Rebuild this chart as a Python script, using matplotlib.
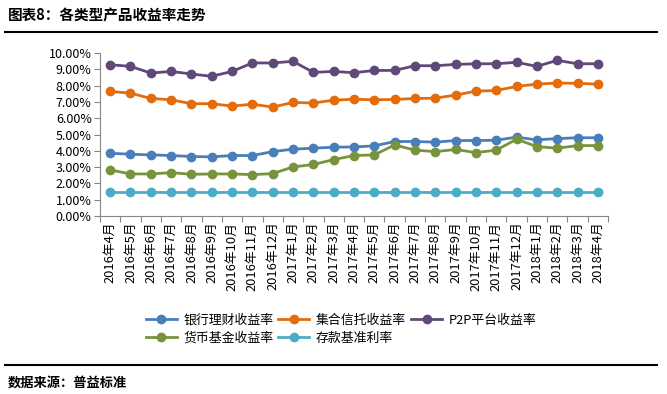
import matplotlib
matplotlib.use('Agg')
import matplotlib.pyplot as plt
from matplotlib.ticker import FuncFormatter
from matplotlib.lines import Line2D

plt.rcParams['font.family'] = ['Noto Sans CJK SC', 'DejaVu Sans']

# 月份
months = ['2016年4月', '2016年5月', '2016年6月', '2016年7月', '2016年8月', '2016年9月',
          '2016年10月', '2016年11月', '2016年12月', '2017年1月', '2017年2月', '2017年3月',
          '2017年4月', '2017年5月', '2017年6月', '2017年7月', '2017年8月', '2017年9月',
          '2017年10月', '2017年11月', '2017年12月', '2018年1月', '2018年2月', '2018年3月',
          '2018年4月']

# 收益率 (%)
bank = [3.85, 3.79, 3.75, 3.71, 3.65, 3.63, 3.71, 3.71, 3.95, 4.10, 4.16, 4.22,
        4.24, 4.30, 4.57, 4.57, 4.53, 4.63, 4.63, 4.65, 4.84, 4.67, 4.75, 4.80, 4.80]
trust = [7.64, 7.54, 7.21, 7.13, 6.89, 6.89, 6.74, 6.86, 6.68, 6.97, 6.93, 7.11,
         7.16, 7.13, 7.15, 7.21, 7.23, 7.42, 7.66, 7.70, 7.95, 8.09, 8.16, 8.14, 8.09]
p2p = [9.28, 9.18, 8.77, 8.87, 8.71, 8.57, 8.87, 9.39, 9.39, 9.49, 8.81, 8.87,
       8.79, 8.93, 8.93, 9.22, 9.22, 9.30, 9.34, 9.34, 9.43, 9.18, 9.55, 9.34, 9.34]
money = [2.83, 2.58, 2.58, 2.66, 2.56, 2.58, 2.58, 2.54, 2.60, 3.01, 3.16, 3.46,
         3.71, 3.75, 4.36, 4.04, 3.95, 4.08, 3.89, 4.04, 4.71, 4.26, 4.16, 4.32, 4.32]
deposit = [1.50] * 25

series = [
    ('银行理财收益率', bank, '#4a7ebb'),
    ('集合信托收益率', trust, '#e46c0a'),
    ('P2P平台收益率', p2p, '#60497a'),
    ('货币基金收益率', money, '#77933c'),
    ('存款基准利率', deposit, '#4bacc6'),
]

fig = plt.figure(figsize=(6.67, 3.94), dpi=100)
ax = fig.add_axes([100 / 667, 1 - 216 / 394, 508 / 667, 163 / 394])

x = list(range(len(months)))
handles = []
for name, vals, col in series:
    ln, = ax.plot(x, vals, color=col, lw=2.0, marker='o', markersize=6,
                  markeredgecolor=col, label=name)
    handles.append(ln)

ax.set_xlim(-0.5, len(months) - 0.5)
ax.set_ylim(0, 10)
ax.set_yticks(range(0, 11))
ax.yaxis.set_major_formatter(FuncFormatter(lambda v, p: '%.2f%%' % v))
# 类别边界处的刻度线，标签放在类别中心
ax.set_xticks([i + 0.5 for i in range(-1, len(months))], minor=False)
ax.set_xticklabels([])
ax.set_xticks(x, minor=True)
ax.set_xticklabels(months, minor=True, rotation=90, fontsize=9.3)
ax.tick_params(axis='x', which='minor', length=0, pad=4)
ax.tick_params(axis='x', which='major', length=4, color='#868686', direction='out')
ax.tick_params(axis='y', length=4, color='#868686', labelsize=9, pad=2)
for s in ['top', 'right']:
    ax.spines[s].set_visible(False)
for s in ['left', 'bottom']:
    ax.spines[s].set_color('#868686')

order = [0, 3, 1, 4, 2]
leg = fig.legend([handles[i] for i in order], [series[i][0] for i in order],
                 ncol=3, loc='upper left', bbox_to_anchor=(134 / 667, 1 - 302 / 394),
                 frameon=False, fontsize=9.3, handlelength=2.4, columnspacing=0.4,
                 labelspacing=0.4, handletextpad=0.5)

fig.text(8 / 667, 1 - 15 / 394, '图表8：各类型产品收益率走势', fontsize=10.5,
         fontweight='bold', va='center', ha='left')
fig.add_artist(Line2D([5 / 667, 657 / 667], [1 - 32 / 394, 1 - 32 / 394], color='black', lw=1.5))
fig.add_artist(Line2D([5 / 667, 657 / 667], [1 - 365 / 394, 1 - 365 / 394], color='black', lw=1.5))
fig.text(8 / 667, 1 - 383 / 394, '数据来源：普益标准', fontsize=9.5,
         fontweight='bold', va='center', ha='left')

fig.savefig('out.png', dpi=100)
